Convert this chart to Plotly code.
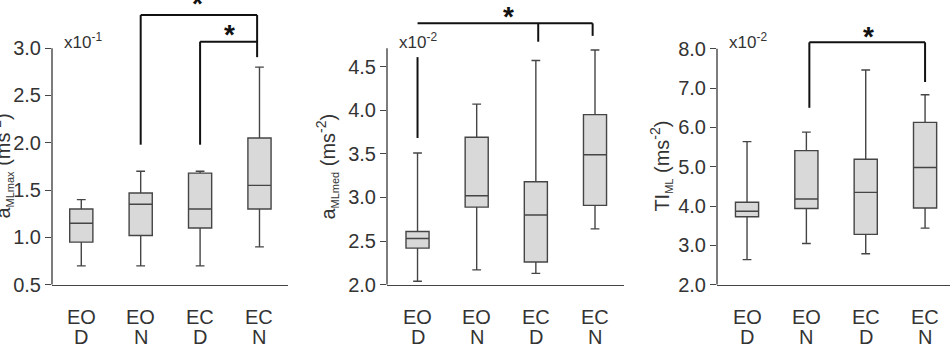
import plotly.graph_objects as go

# ---------------- data ----------------
conditions = ["EO", "EO", "EC", "EC"]
groups = ["D", "N", "D", "N"]
cat_pos = [0, 1, 2, 3]

# panel 1: a_MLmax (x10^-1)
p1_low = [0.70, 0.70, 0.70, 0.90]
p1_q1 = [0.95, 1.02, 1.10, 1.30]
p1_med = [1.15, 1.35, 1.30, 1.55]
p1_q3 = [1.30, 1.47, 1.68, 2.05]
p1_up = [1.40, 1.70, 1.70, 2.80]

# panel 2: a_MLmed (x10^-2)
p2_low = [2.04, 2.17, 2.13, 2.64]
p2_q1 = [2.42, 2.89, 2.26, 2.91]
p2_med = [2.53, 3.02, 2.80, 3.49]
p2_q3 = [2.61, 3.69, 3.18, 3.95]
p2_up = [3.51, 4.07, 4.57, 4.69]

# panel 3: TI_ML (x10^-2)
p3_low = [2.64, 3.05, 2.79, 3.44]
p3_q1 = [3.73, 3.94, 3.28, 3.95]
p3_med = [3.87, 4.18, 4.35, 4.98]
p3_q3 = [4.10, 5.41, 5.19, 6.13]
p3_up = [5.64, 5.88, 7.46, 6.83]

SUB = '<sub><span style="font-size:11px">{}</span></sub>'
y_titles = ["a" + SUB.format("MLmax") + " (ms<sup>-2</sup>)",
            "a" + SUB.format("MLmed") + " (ms<sup>-2</sup>)",
            "TI" + SUB.format("ML") + " (ms<sup>-2</sup>)"]
scale_labels = ["x10<sup>-1</sup>", "x10<sup>-2</sup>", "x10<sup>-2</sup>"]
p1_ticks = [0.5, 1.0, 1.5, 2.0, 2.5, 3.0]
p2_ticks = [2.0, 2.5, 3.0, 3.5, 4.0, 4.5]
p3_ticks = [2.0, 3.0, 4.0, 5.0, 6.0, 7.0, 8.0]

# ---------------- layout config ----------------
FONT = "Liberation Sans, Arial, sans-serif"
TXT = "#333333"
LINE = "#454545"
FILL = "#d9d9d9"
W, H = 950, 350
YDOM = [0.16, 1.0]
LABEL_ROWS = [316, 337]   # pixel anchors of the two category-label lines
LABEL_SHIFT = -11

panels = [
    dict(stats=(p1_low, p1_q1, p1_med, p1_q3, p1_up), ticks=p1_ticks,
         dom=[52 / W, 288 / W], xr=[-0.493, 3.48], yr=[0.5, 3.509], ytop=3.0,
         title_x=2, scale_x=62),
    dict(stats=(p2_low, p2_q1, p2_med, p2_q3, p2_up), ticks=p2_ticks,
         dom=[387 / W, 624 / W], xr=[-0.516, 3.49], yr=[2.0, 5.263], ytop=4.71,
         title_x=327, scale_x=397),
    dict(stats=(p3_low, p3_q1, p3_med, p3_q3, p3_up), ticks=p3_ticks,
         dom=[717 / W, 950 / W], xr=[-0.506, 3.42], yr=[2.0, 9.241], ytop=8.0,
         title_x=661, scale_x=727),
]

# significance brackets (data coords)
brackets = [
    (0, [((1, 1.98), (1, 3.35)), ((1, 3.35), (2.96, 3.35)), ((2.96, 3.35), (2.96, 2.905)),
         ((2, 1.98), (2, 3.069)), ((2, 3.069), (2.96, 3.069))]),
    (1, [((0, 3.682), (0, 4.608)), ((0, 4.996), (2.96, 4.996)),
         ((2.04, 4.996), (2.04, 4.785)), ((2.96, 4.996), (2.96, 4.852))]),
    (2, [((1.05, 6.50), (1.05, 8.165)), ((1.05, 8.165), (3.0, 8.165)),
         ((3.0, 8.165), (3.0, 7.155))]),
]
stars = [(0, 1.96, 3.55), (0, 2.49, 3.215), (1, 1.53, 5.155), (2, 2.04, 8.485)]


def to_paper(p, v):
    y0, y1 = p["yr"]
    return YDOM[0] + (v - y0) / (y1 - y0) * (YDOM[1] - YDOM[0])


fig = go.Figure()
layout = dict(width=W, height=H, margin=dict(l=0, r=0, t=0, b=0),
              paper_bgcolor="white", plot_bgcolor="white", showlegend=False,
              font=dict(family=FONT, color=TXT))
shapes, annotations = [], []

for i, p in enumerate(panels):
    xa = "x" if i == 0 else f"x{i+1}"
    ya = "y" if i == 0 else f"y{i+1}"
    low, q1, med, q3, up = p["stats"]
    fig.add_trace(go.Box(
        x=cat_pos, lowerfence=low, q1=q1, median=med, q3=q3, upperfence=up,
        xaxis=xa, yaxis=ya, width=0.39, whiskerwidth=0.38,
        fillcolor=FILL, line=dict(color=LINE, width=1.4), boxpoints=False,
        hoverinfo="skip"))
    xkey = "xaxis" if i == 0 else f"xaxis{i+1}"
    ykey = "yaxis" if i == 0 else f"yaxis{i+1}"
    layout[xkey] = dict(domain=p["dom"], range=p["xr"], anchor=ya,
                        tickvals=cat_pos, showticklabels=False, ticks="",
                        showline=True, linecolor=LINE, linewidth=1.4,
                        showgrid=False, zeroline=False)
    layout[ykey] = dict(domain=YDOM, range=p["yr"], anchor=xa,
                        tickvals=p["ticks"], tickformat=".1f",
                        ticks="outside", ticklen=6, tickcolor=LINE, tickwidth=1.4,
                        showline=False, showgrid=False, zeroline=False,
                        tickfont=dict(size=20, color=TXT, family=FONT))
    # y axis line (only up to the last tick)
    shapes.append(dict(type="line", xref="paper", yref=ya,
                       x0=p["dom"][0], x1=p["dom"][0],
                       y0=p["yr"][0], y1=p["ytop"],
                       line=dict(color=LINE, width=1.4)))
    # two-line category labels
    for c, cond, g in zip(cat_pos, conditions, groups):
        for txt, row in zip((cond, g), LABEL_ROWS):
            annotations.append(dict(text=txt, xref=xa, yref="paper", x=c,
                                    y=(H - row) / H, xanchor="center", yanchor="middle",
                                    yshift=LABEL_SHIFT, showarrow=False,
                                    font=dict(size=20, color=TXT, family=FONT)))
    annotations.append(dict(text=y_titles[i], textangle=-90, xref="paper", yref="paper",
                            x=p["title_x"] / W, y=(H - 172) / H, xanchor="center",
                            yanchor="middle", showarrow=False,
                            font=dict(size=20, color=TXT, family=FONT)))
    annotations.append(dict(text=scale_labels[i], xref="paper", yref="paper",
                            x=p["scale_x"] / W, y=(H - 42) / H, xanchor="left",
                            yanchor="middle", showarrow=False,
                            font=dict(size=17, color=TXT, family=FONT)))

for pi, segs in brackets:
    xa = "x" if pi == 0 else f"x{pi+1}"
    ya = "y" if pi == 0 else f"y{pi+1}"
    for (x0, y0), (x1, y1) in segs:
        shapes.append(dict(type="line", xref=xa, yref=ya, x0=x0, y0=y0, x1=x1, y1=y1,
                           line=dict(color="#111111", width=2)))

for pi, sx, sy in stars:
    xa = "x" if pi == 0 else f"x{pi+1}"
    annotations.append(dict(text="<b>*</b>", xref=xa, yref="paper", x=sx,
                            y=to_paper(panels[pi], sy),
                            xanchor="center", yanchor="middle", showarrow=False,
                            yshift=-7, font=dict(size=28, color="#111111", family=FONT)))

layout["shapes"] = shapes
layout["annotations"] = annotations
fig.update_layout(**layout)
fig.write_html("out.html")
